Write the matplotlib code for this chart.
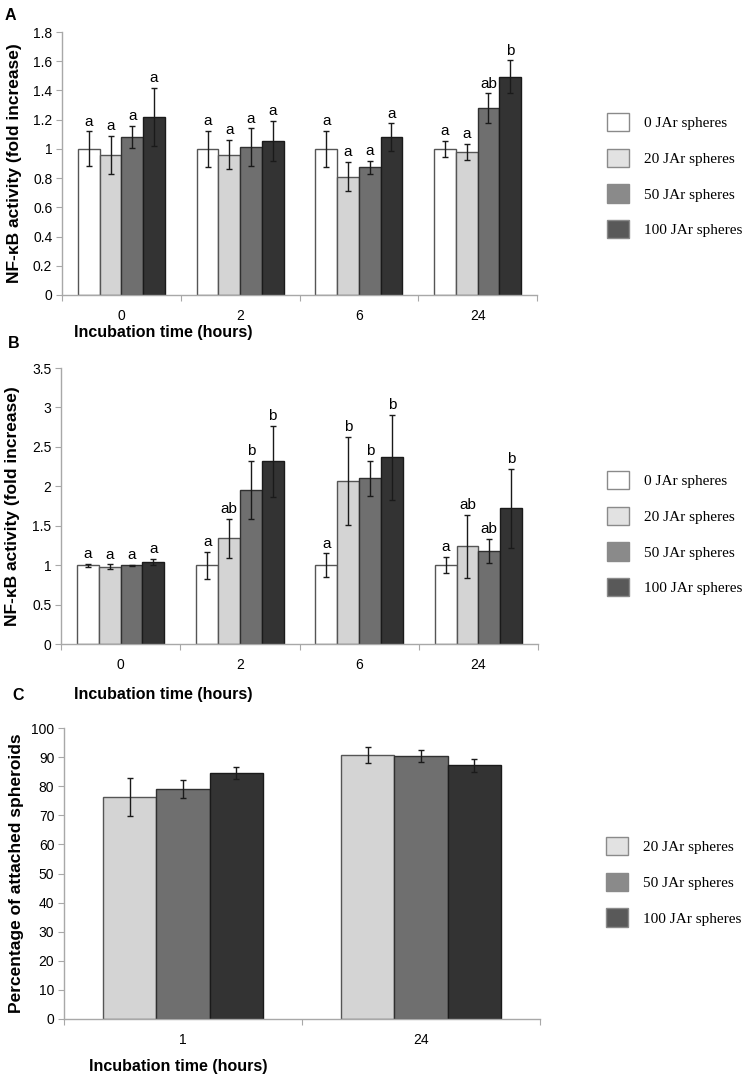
import numpy as np
import matplotlib
matplotlib.use('Agg')
import matplotlib.pyplot as plt
from matplotlib.patches import Patch

plt.rcParams['font.family'] = ['Liberation Sans', 'DejaVu Sans']

# Dados
hours_ab = ['0', '2', '6', '24']
hours_c = ['1', '24']
groups = ['0 JAr spheres', '20 JAr spheres', '50 JAr spheres', '100 JAr spheres']

# painel A: atividade NF-kB
a_vals = [[1.00, 1.00, 1.00, 1.00],
          [0.96, 0.96, 0.81, 0.98],
          [1.08, 1.01, 0.875, 1.28],
          [1.22, 1.055, 1.08, 1.495]]
a_err = [[0.12, 0.125, 0.125, 0.055],
         [0.13, 0.10, 0.10, 0.055],
         [0.075, 0.13, 0.045, 0.10],
         [0.20, 0.135, 0.095, 0.11]]
a_let = [['a', 'a', 'a', 'a'],
         ['a', 'a', 'a', 'a'],
         ['a', 'a', 'a', 'ab'],
         ['a', 'a', 'a', 'b']]

# painel B
b_vals = [[1.00, 1.00, 1.00, 1.00],
          [0.98, 1.34, 2.07, 1.24],
          [1.00, 1.95, 2.10, 1.18],
          [1.04, 2.32, 2.37, 1.72]]
b_err = [[0.02, 0.17, 0.15, 0.10],
         [0.03, 0.25, 0.56, 0.40],
         [0.005, 0.37, 0.22, 0.155],
         [0.04, 0.45, 0.54, 0.50]]
b_let = [['a', 'a', 'a', 'a'],
         ['a', 'ab', 'b', 'ab'],
         ['a', 'b', 'b', 'ab'],
         ['a', 'b', 'b', 'b']]

# painel C: esferoides aderidos (%)
c_vals = [[76.3, 90.6],
          [79.1, 90.4],
          [84.6, 87.2]]
c_err = [[6.5, 2.7],
         [3.1, 2.2],
         [2.0, 2.3]]

bar_colors = ['#ffffff', '#d4d4d4', '#6f6f6f', '#333333']
edge_colors = ['#555555', '#555555', '#303030', '#1a1a1a']
legend_colors = ['#ffffff', '#e2e2e2', '#8a8a8a', '#595959']

fig = plt.figure(figsize=(7.47, 10.8), dpi=100)
W, H = 747, 1080


def make_axes(l, r, b, t):
    return fig.add_axes([l / W, 1 - b / H, (r - l) / W, (b - t) / H])


def style_axes(ax, ncat, labels, ylim, yticks, yfmt):
    ax.set_xlim(0, ncat)
    ax.set_ylim(*ylim)
    for s in ['top', 'right']:
        ax.spines[s].set_visible(False)
    for s in ['left', 'bottom']:
        ax.spines[s].set_color('#a8a8a8')
        ax.spines[s].set_linewidth(1)
    ax.set_xticks(np.arange(ncat + 1))
    ax.set_xticklabels([])
    ax.set_xticks(np.arange(ncat) + 0.5, minor=True)
    ax.set_xticklabels(labels, minor=True, fontsize=10)
    ax.tick_params(axis='x', which='minor', length=0, pad=10)
    ax.tick_params(axis='x', which='major', length=4, color='#a8a8a8', direction='out')
    ax.set_yticks(yticks)
    ax.set_yticklabels([yfmt(v) for v in yticks], fontsize=10)
    ax.tick_params(axis='y', length=4, color='#a8a8a8', direction='out', pad=3)


def draw_bars(ax, vals, errs, colors, edges, width, letters=None):
    n = len(vals)
    ncat = len(vals[0])
    x = np.arange(ncat) + 0.5
    for i in range(n):
        pos = x + (i - (n - 1) / 2) * width
        ax.bar(pos, vals[i], width, color=colors[i], edgecolor=edges[i],
               linewidth=1, zorder=2)
        ax.errorbar(pos, vals[i], yerr=errs[i], fmt='none', ecolor='#1a1a1a',
                    elinewidth=1, capsize=2.5, capthick=1, zorder=3)
        if letters is not None:
            for p, v, e, lt in zip(pos, vals[i], errs[i], letters[i]):
                ax.annotate(lt, (p, v + e), xytext=(0, 2), textcoords='offset points',
                            ha='center', va='bottom', fontsize=11)


def add_legend(labels, colors, x, y):
    handles = [Patch(facecolor=c, edgecolor='#8a8a8a', linewidth=1) for c in colors]
    fig.legend(handles, labels, loc='upper left', bbox_to_anchor=(x / W, 1 - y / H),
               frameon=False, prop={'family': 'Liberation Serif', 'size': 11},
               handlelength=1.45, handleheight=1.45, labelspacing=1.15,
               handletextpad=1.0, borderpad=0, borderaxespad=0)


fmt_a = lambda v: ('%g' % round(v, 1))

# A
axA = make_axes(62, 537, 295, 32)
style_axes(axA, 4, hours_ab, (0, 1.8), np.arange(0, 1.81, 0.2), fmt_a)
draw_bars(axA, a_vals, a_err, bar_colors, edge_colors, 0.183, a_let)
add_legend(groups, legend_colors, 607, 113)
fig.text(5 / W, 1 - 15 / H, 'A', fontsize=11.5, fontweight='bold', va='center')
axA.set_ylabel('NF-κB activity (fold increase)', fontsize=12.5, fontweight='bold')
axA.yaxis.set_label_coords(-0.085, 0.5)
fig.text(163 / W, 1 - 333 / H, 'Incubation time (hours)', fontsize=11.5,
         fontweight='bold', ha='center', va='center')

# B
axB = make_axes(61, 538, 644, 368)
style_axes(axB, 4, hours_ab, (0, 3.5), np.arange(0, 3.51, 0.5), fmt_a)
draw_bars(axB, b_vals, b_err, bar_colors, edge_colors, 0.183, b_let)
add_legend(groups, legend_colors, 607, 471)
fig.text(8 / W, 1 - 344 / H, 'B', fontsize=11.5, fontweight='bold', va='center')
axB.set_ylabel('NF-κB activity (fold increase)', fontsize=12.5, fontweight='bold')
axB.yaxis.set_label_coords(-0.085, 0.5)
fig.text(163 / W, 1 - 695 / H, 'Incubation time (hours)', fontsize=11.5,
         fontweight='bold', ha='center', va='center')

# C
axC = make_axes(64, 540, 1019, 728)
style_axes(axC, 2, hours_c, (0, 100), np.arange(0, 101, 10), lambda v: '%d' % v)
draw_bars(axC, c_vals, c_err, bar_colors[1:], edge_colors[1:], 0.223)
add_legend(groups[1:], legend_colors[1:], 606, 837)
fig.text(12 / W, 1 - 695 / H, 'C', fontsize=11.5, fontweight='bold', va='center')
axC.set_ylabel('Percentage of attached spheroids', fontsize=12.5, fontweight='bold')
axC.yaxis.set_label_coords(-0.085, 0.5)
fig.text(178 / W, 1 - 1066 / H, 'Incubation time (hours)', fontsize=11.5,
         fontweight='bold', ha='center', va='center')

fig.savefig('out.png', dpi=100)
